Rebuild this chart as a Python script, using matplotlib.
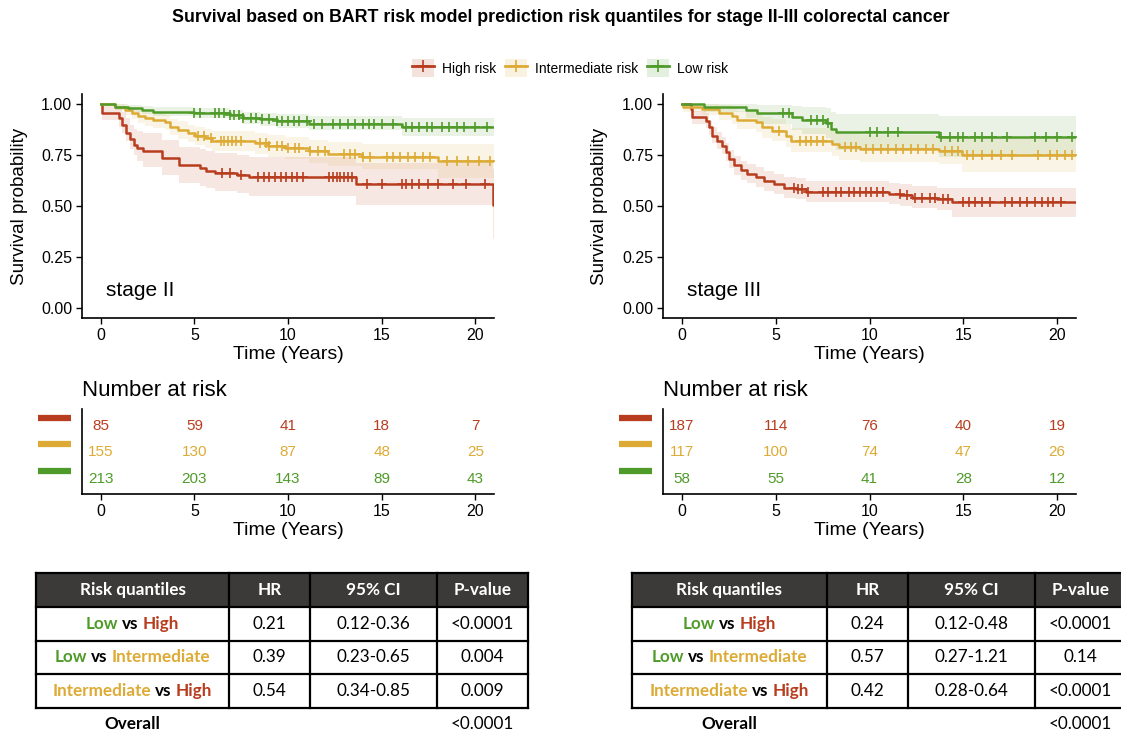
import numpy as np
import matplotlib
matplotlib.use('Agg')
import matplotlib.pyplot as plt
from matplotlib.lines import Line2D
from matplotlib.patches import Patch, Rectangle
from matplotlib.transforms import blended_transform_factory

plt.rcParams['font.family'] = ['Liberation Sans', 'DejaVu Sans']

W, H = 1121, 735
RED = '#B83D1F'
YEL = '#DDAB35'
GRN = '#4F9B2A'
T_END = 21

title = 'Survival based on BART risk model prediction risk quantiles for stage II-III colorectal cancer'
groups = ['High risk', 'Intermediate risk', 'Low risk']
colors = [RED, YEL, GRN]

# ---- stage II : step knots (time, survival, lower CI, upper CI)
s2_high_t = [0, 0.05, 0.95, 1.15, 1.35, 1.55, 1.75, 1.95, 2.25, 3.25, 4.2, 5.3, 5.6, 6.1, 7.3, 7.9, 13.65, 20.95]
s2_high_s = [1.0, 0.955, 0.93, 0.90, 0.86, 0.83, 0.80, 0.785, 0.77, 0.735, 0.70, 0.685, 0.672, 0.661, 0.653, 0.64, 0.61, 0.505]
s2_high_lo = [1.0, 0.92, 0.89, 0.86, 0.82, 0.78, 0.75, 0.72, 0.69, 0.652, 0.615, 0.60, 0.587, 0.575, 0.565, 0.548, 0.505, 0.34]
s2_high_hi = [1.0, 0.99, 0.98, 0.96, 0.93, 0.90, 0.88, 0.87, 0.86, 0.825, 0.79, 0.78, 0.77, 0.76, 0.75, 0.74, 0.71, 0.68]
s2_high_cens = [6.5, 6.9, 7.5, 8.4, 8.7, 9.0, 9.3, 9.6, 9.9, 10.2, 10.5, 10.8, 12.2, 12.4, 12.6, 12.8, 13.0,
                13.2, 13.4, 14.2, 15.0, 16.1, 16.3, 16.6, 17.0, 17.5, 18.0, 18.8, 19.5, 20.5]

s2_int_t = [0, 0.76, 1.3, 1.65, 2.0, 2.37, 2.81, 3.43, 3.7, 4.15, 4.68, 5.04, 5.57, 5.93, 8.24, 8.95, 9.85, 11.1, 12.16, 13.94, 18.03]
s2_int_s = [1.0, 0.987, 0.97, 0.955, 0.943, 0.93, 0.92, 0.913, 0.889, 0.873, 0.857, 0.845, 0.832, 0.819, 0.808, 0.796, 0.786, 0.77, 0.755, 0.742, 0.721]
s2_int_lo = [1.0, 0.97, 0.945, 0.925, 0.91, 0.895, 0.882, 0.874, 0.848, 0.83, 0.812, 0.798, 0.783, 0.768, 0.755, 0.742, 0.73, 0.712, 0.695, 0.68, 0.638]
s2_int_hi = [1.0, 1.0, 0.99, 0.98, 0.972, 0.962, 0.955, 0.949, 0.928, 0.915, 0.90, 0.89, 0.88, 0.868, 0.858, 0.848, 0.84, 0.826, 0.815, 0.805, 0.805]
s2_int_cens = [5.2, 5.5, 5.9, 6.4, 6.6, 6.8, 7.0, 7.2, 7.5, 8.5, 8.8, 9.0, 9.4, 9.7, 10.0, 10.4, 10.6, 11.2, 11.6,
               12.0, 13.0, 13.3, 13.6, 14.0, 14.4, 15.3, 15.6, 16.0, 16.4, 16.8, 17.2, 17.6, 18.5, 19.0, 19.6, 20.2, 20.8]

s2_low_t = [0, 0.76, 1.47, 2.19, 2.81, 5.0, 6.9, 7.6, 8.5, 9.4, 11.1, 16.08]
s2_low_s = [1.0, 0.987, 0.979, 0.97, 0.962, 0.955, 0.946, 0.933, 0.925, 0.917, 0.905, 0.889]
s2_low_lo = [1.0, 0.97, 0.96, 0.95, 0.94, 0.93, 0.92, 0.905, 0.895, 0.885, 0.872, 0.845]
s2_low_hi = [1.0, 1.0, 0.995, 0.99, 0.985, 0.98, 0.973, 0.962, 0.956, 0.95, 0.94, 0.93]
s2_low_cens = [5.0, 5.3, 6.1, 6.3, 6.6, 6.9, 7.1, 7.4, 7.6, 8.0, 8.3, 8.6, 9.0, 9.4, 9.7, 10.0, 10.3, 10.6, 11.0,
               11.4, 11.8, 12.4, 12.8, 13.2, 13.6, 14.0, 14.3, 14.6, 15.0, 15.6, 16.3, 16.6, 17.0, 17.4, 17.7,
               18.2, 18.6, 19.0, 19.4, 20.0, 20.6]

# ---- stage III
s3_high_t = [0, 0.48, 0.57, 1.28, 1.45, 1.63, 1.9, 2.16, 2.34, 2.52, 2.78, 3.14, 3.49, 3.94, 4.38, 4.91, 5.44,
             6.06, 6.6, 11.03, 11.65, 12.27, 13.6, 14.4]
s3_high_s = [1.0, 0.976, 0.935, 0.919, 0.886, 0.846, 0.821, 0.797, 0.764, 0.732, 0.699, 0.675, 0.659, 0.642,
             0.623, 0.606, 0.59, 0.585, 0.569, 0.561, 0.553, 0.541, 0.532, 0.52]
s3_high_lo = [1.0, 0.955, 0.905, 0.885, 0.85, 0.808, 0.781, 0.756, 0.722, 0.688, 0.654, 0.629, 0.612, 0.594,
              0.575, 0.557, 0.54, 0.535, 0.518, 0.509, 0.50, 0.488, 0.478, 0.447]
s3_high_hi = [1.0, 0.995, 0.968, 0.955, 0.923, 0.886, 0.862, 0.839, 0.807, 0.776, 0.745, 0.722, 0.707, 0.69,
              0.672, 0.656, 0.641, 0.637, 0.622, 0.615, 0.607, 0.596, 0.588, 0.59]
s3_high_cens = [6.0, 6.2, 6.4, 6.7, 7.5, 7.8, 8.2, 8.5, 8.9, 9.2, 9.5, 9.8, 10.1, 10.4, 10.7, 11.6, 12.0, 12.4,
                12.8, 13.2, 13.5, 13.9, 14.2, 15.0, 15.3, 15.6, 16.0, 16.4, 17.2, 17.6, 18.0, 18.4, 18.8, 19.2,
                19.5, 19.8, 20.2]

s3_int_t = [0, 0.05, 1.1, 1.99, 2.7, 2.96, 3.94, 4.29, 4.82, 5.53, 5.8, 8.01, 8.37, 9.5, 13.69, 14.93]
s3_int_s = [1.0, 0.987, 0.976, 0.959, 0.943, 0.922, 0.911, 0.886, 0.87, 0.845, 0.821, 0.805, 0.789, 0.78, 0.769, 0.748]
s3_int_lo = [1.0, 0.962, 0.945, 0.922, 0.902, 0.877, 0.864, 0.836, 0.818, 0.79, 0.764, 0.745, 0.728, 0.718, 0.705, 0.667]
s3_int_hi = [1.0, 1.0, 1.0, 0.995, 0.985, 0.968, 0.958, 0.938, 0.925, 0.903, 0.882, 0.868, 0.855, 0.848, 0.838, 0.83]
s3_int_cens = [5.2, 6.3, 6.6, 6.9, 7.2, 7.5, 8.7, 9.0, 9.3, 9.8, 10.2, 10.6, 11.0, 11.4, 11.8, 12.2, 12.6, 13.0,
               13.4, 14.0, 14.4, 14.7, 15.2, 15.5, 16.0, 16.5, 17.0, 17.6, 19.0, 19.6, 20.0, 20.4, 20.8]

s3_low_t = [0, 1.19, 3.4, 4.03, 5.89, 6.42, 7.66, 7.93, 8.19, 13.69]
s3_low_s = [1.0, 0.987, 0.971, 0.955, 0.935, 0.922, 0.906, 0.878, 0.862, 0.838]
s3_low_lo = [1.0, 0.962, 0.93, 0.905, 0.875, 0.855, 0.835, 0.80, 0.775, 0.742]
s3_low_hi = [1.0, 1.0, 1.0, 0.998, 0.99, 0.985, 0.98, 0.96, 0.952, 0.94]
s3_low_cens = [5.4, 5.7, 6.9, 7.2, 7.5, 7.8, 10.0, 10.4, 11.0, 11.5, 13.8, 14.3, 14.7, 15.0, 15.6, 16.0, 16.5,
               17.3, 18.8, 19.4, 20.0, 20.8]

# ---- number at risk
risk_times = [0, 5, 10, 15, 20]
s2_risk_high = [85, 59, 41, 18, 7]
s2_risk_int = [155, 130, 87, 48, 25]
s2_risk_low = [213, 203, 143, 89, 43]
s3_risk_high = [187, 114, 76, 40, 19]
s3_risk_int = [117, 100, 74, 47, 26]
s3_risk_low = [58, 55, 41, 28, 12]

# ---- hazard ratio tables
tab_header = ['Risk quantiles', 'HR', '95% CI', 'P-value']
tab_pairs = [('Low', 'High'), ('Low', 'Intermediate'), ('Intermediate', 'High')]
word_color = {'Low': GRN, 'Intermediate': YEL, 'High': RED}
s2_hr = ['0.21', '0.39', '0.54']
s2_ci = ['0.12-0.36', '0.23-0.65', '0.34-0.85']
s2_p = ['<0.0001', '0.004', '0.009']
s2_overall = '<0.0001'
s3_hr = ['0.24', '0.57', '0.42']
s3_ci = ['0.12-0.48', '0.27-1.21', '0.28-0.64']
s3_p = ['<0.0001', '0.14', '<0.0001']
s3_overall = '<0.0001'


fig = plt.figure(figsize=(W / 100, H / 100), dpi=100)


def px_axes(x0, y0, x1, y1):
    return fig.add_axes([x0 / W, 1 - y1 / H, (x1 - x0) / W, (y1 - y0) / H])


def style(ax):
    for s in ['top', 'right']:
        ax.spines[s].set_visible(False)
    for s in ['left', 'bottom']:
        ax.spines[s].set_linewidth(1.2)
    ax.tick_params(length=4, width=1, pad=3, labelsize=11.5, colors='black')


def km_panel(ax, curves, stage):
    for t, s, lo, hi, cens, c in curves:
        t = np.append(t, T_END)
        s = np.append(s, s[-1])
        lo = np.append(lo, lo[-1])
        hi = np.append(hi, hi[-1])
        ax.fill_between(t, lo, hi, step='post', color=c, alpha=0.12, lw=0)
        ax.step(t, s, where='post', color=c, lw=1.8)
        idx = np.searchsorted(t, cens, side='right') - 1
        ax.plot(cens, s[idx], ls='none', marker='+', ms=7, mew=1.2, color=c)
    ax.set_xlim(-1, T_END)
    ax.set_ylim(-0.05, 1.05)
    ax.set_xticks([0, 5, 10, 15, 20])
    ax.set_yticks([0, 0.25, 0.5, 0.75, 1.0])
    ax.set_yticklabels(['0.00', '0.25', '0.50', '0.75', '1.00'])
    style(ax)
    ax.set_ylabel('Survival probability', fontsize=13.5)
    ax.set_xlabel('Time (Years)', fontsize=14)
    ax.yaxis.set_label_coords(-0.132, 0.5)
    ax.xaxis.set_label_coords(0.5, -0.125)
    ax.text(0.3, 0.085, stage, fontsize=15, va='center', ha='left')


def risk_panel(ax, rows):
    ax.set_xlim(-1, T_END)
    ax.set_ylim(0.43, 3.64)
    tr = blended_transform_factory(ax.transAxes, ax.transData)
    for k, (vals, c) in enumerate(rows):
        y = 3 - k
        for tt, v in zip(risk_times, vals):
            ax.text(tt, y, str(v), color=c, ha='center', va='center', fontsize=11)
        ax.plot([-0.107, -0.027], [y + 0.3, y + 0.3], color=c, lw=4.5, transform=tr,
                clip_on=False, solid_capstyle='butt')
    ax.set_xticks([0, 5, 10, 15, 20])
    ax.set_yticks([])
    style(ax)
    ax.set_xlabel('Time (Years)', fontsize=14)
    ax.xaxis.set_label_coords(0.5, -0.33)
    ax.text(0, 1.1, 'Number at risk', transform=ax.transAxes, fontsize=16, va='bottom', ha='left')


ax1 = px_axes(82, 94, 494, 318)
km_panel(ax1, [(s2_high_t, s2_high_s, s2_high_lo, s2_high_hi, s2_high_cens, RED),
               (s2_int_t, s2_int_s, s2_int_lo, s2_int_hi, s2_int_cens, YEL),
               (s2_low_t, s2_low_s, s2_low_lo, s2_low_hi, s2_low_cens, GRN)], 'stage II')
ax2 = px_axes(663, 94, 1076, 318)
km_panel(ax2, [(s3_high_t, s3_high_s, s3_high_lo, s3_high_hi, s3_high_cens, RED),
               (s3_int_t, s3_int_s, s3_int_lo, s3_int_hi, s3_int_cens, YEL),
               (s3_low_t, s3_low_s, s3_low_lo, s3_low_hi, s3_low_cens, GRN)], 'stage III')

r1 = px_axes(82, 409, 494, 494)
risk_panel(r1, [(s2_risk_high, RED), (s2_risk_int, YEL), (s2_risk_low, GRN)])
r2 = px_axes(663, 409, 1076, 494)
risk_panel(r2, [(s3_risk_high, RED), (s3_risk_int, YEL), (s3_risk_low, GRN)])

fig.text(0.5, 1 - 18 / H, title, ha='center', va='center', fontweight='bold', fontsize=12.8)

handles = [(Patch(facecolor=c, alpha=0.15, edgecolor='none'),
            Line2D([], [], color=c, lw=2, marker='+', ms=8, mew=1.2)) for c in colors]
fig.legend(handles, groups, loc='center', bbox_to_anchor=(570 / W, 1 - 68 / H), ncol=3, frameon=False,
           fontsize=10, handlelength=1.6, handleheight=1.6, columnspacing=0.6, handletextpad=0.6)

# ---- tables (overlay axes in pixel units)
tab = fig.add_axes([0, 0, 1, 1])
tab.set_xlim(0, W)
tab.set_ylim(H, 0)
tab.axis('off')
tab.patch.set_visible(False)
renderer = fig.canvas.get_renderer()
TF = ['Lato', 'DejaVu Sans']
TS = 12.3

probe1 = tab.text(0, 0, 'x x', fontsize=TS, fontweight='bold', family=TF)
probe2 = tab.text(0, 0, 'xx', fontsize=TS, fontweight='bold', family=TF)
GAP = probe1.get_window_extent(renderer).width - probe2.get_window_extent(renderer).width
probe1.remove()
probe2.remove()


def colored_label(xc, y, parts):
    texts = [tab.text(0, y, s, color=c, fontsize=TS, fontweight='bold', family=TF, va='center', ha='left')
             for s, c in parts]
    widths = [t.get_window_extent(renderer).width for t in texts]
    x = xc - (sum(widths) + GAP * (len(parts) - 1)) / 2
    for t, w in zip(texts, widths):
        t.set_x(x)
        x += w + GAP


def hr_table(cols, hr, ci, pv, overall):
    rows_y = [573, 607, 641, 674, 708]
    tab.add_patch(Rectangle((cols[0], rows_y[0]), cols[-1] - cols[0], rows_y[1] - rows_y[0],
                            facecolor='#3B3A38', edgecolor='none'))
    for y in rows_y:
        tab.plot([cols[0], cols[-1]], [y, y], color='black', lw=1.6)
    for x in cols:
        tab.plot([x, x], [rows_y[0], rows_y[-1]], color='black', lw=1.6)
    mids = [(a + b) / 2 for a, b in zip(cols[:-1], cols[1:])]
    yh = (rows_y[0] + rows_y[1]) / 2
    for m, h in zip(mids, tab_header):
        tab.text(m, yh, h, color='white', fontsize=TS, fontweight='bold', family=TF, ha='center', va='center')
    for k, (a, b) in enumerate(tab_pairs):
        y = (rows_y[k + 1] + rows_y[k + 2]) / 2
        colored_label(mids[0], y, [(a, word_color[a]), ('vs', 'black'), (b, word_color[b])])
        for m, v in zip(mids[1:], [hr[k], ci[k], pv[k]]):
            tab.text(m, y, v, fontsize=TS, family=TF, ha='center', va='center')
    tab.text(mids[0], 724, 'Overall', fontsize=TS, fontweight='bold', family=TF, ha='center', va='center')
    tab.text(mids[-1], 724, overall, fontsize=TS, family=TF, ha='center', va='center')


hr_table([36, 229, 310, 437, 528], s2_hr, s2_ci, s2_p, s2_overall)
hr_table([632, 827, 908, 1035, 1126], s3_hr, s3_ci, s3_p, s3_overall)

fig.savefig('out.png', dpi=100)
